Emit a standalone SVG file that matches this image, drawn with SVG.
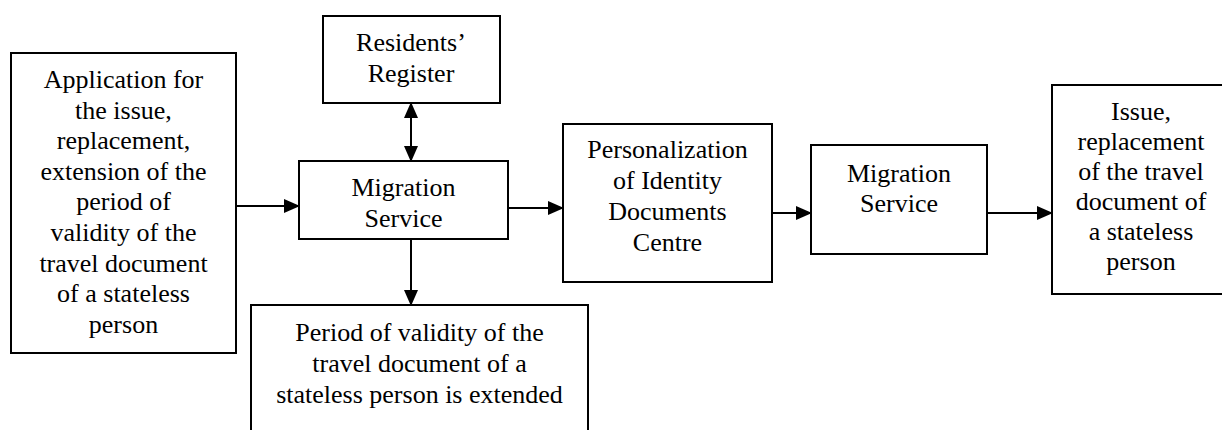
<svg xmlns="http://www.w3.org/2000/svg" width="1222" height="430" viewBox="0 0 1222 430">
<style>
rect{fill:#fff;stroke:#000;stroke-width:2}
text{font-family:'Liberation Serif','Tinos','Times New Roman','DejaVu Serif',serif;font-size:26px;fill:#000;text-anchor:middle}
.c{stroke:#000;stroke-width:2;fill:none}
</style>
<defs>
<marker id="ah" markerWidth="16" markerHeight="14" refX="15" refY="7" orient="auto" markerUnits="userSpaceOnUse">
<path d="M0,0 L16,7 L0,14 Z" fill="#000"/>
</marker>
<marker id="as" markerWidth="16" markerHeight="14" refX="1" refY="7" orient="auto" markerUnits="userSpaceOnUse">
<path d="M16,0 L0,7 L16,14 Z" fill="#000"/>
</marker>
</defs>
<g id="connectors">
<line class="c" x1="236" y1="206" x2="299" y2="206" marker-end="url(#ah)"/>
<line class="c" x1="411" y1="103" x2="411" y2="161" marker-start="url(#as)" marker-end="url(#ah)"/>
<line class="c" x1="411" y1="239" x2="411" y2="305" marker-end="url(#ah)"/>
<line class="c" x1="508" y1="208" x2="563" y2="208" marker-end="url(#ah)"/>
<line class="c" x1="772" y1="213" x2="811" y2="213" marker-end="url(#ah)"/>
<line class="c" x1="987" y1="213" x2="1052" y2="213" marker-end="url(#ah)"/>
</g>
<g font-family="Liberation Serif, Tinos, Times New Roman, DejaVu Serif, serif">
<g id="application">
<rect x="11" y="53" width="225" height="300"/>
<text x="123.5" y="88">Application for</text>
<text x="123.5" y="118.6">the issue,</text>
<text x="123.5" y="149.2">replacement,</text>
<text x="123.5" y="179.8">extension of the</text>
<text x="123.5" y="210.4">period of</text>
<text x="123.5" y="241">validity of the</text>
<text x="123.5" y="271.6">travel document</text>
<text x="123.5" y="302.2">of a stateless</text>
<text x="123.5" y="332.8">person</text>
</g>
<g id="register">
<rect x="323" y="16" width="177" height="87"/>
<text x="411" y="51">Residents’</text>
<text x="411" y="82">Register</text>
</g>
<g id="migration1">
<rect x="299" y="161" width="209" height="78"/>
<text x="403.5" y="196">Migration</text>
<text x="403.5" y="227">Service</text>
</g>
<g id="extended">
<rect x="251" y="305" width="337" height="140"/>
<text x="419.5" y="341">Period of validity of the</text>
<text x="419.5" y="372">travel document of a</text>
<text x="419.5" y="403">stateless person is extended</text>
</g>
<g id="personalization">
<rect x="563" y="124" width="209" height="158"/>
<text x="667.5" y="158">Personalization</text>
<text x="667.5" y="189">of Identity</text>
<text x="667.5" y="220">Documents</text>
<text x="667.5" y="251">Centre</text>
</g>
<g id="migration2">
<rect x="811" y="145" width="176" height="109"/>
<text x="899" y="182">Migration</text>
<text x="899" y="212">Service</text>
</g>
<g id="issue">
<rect x="1052" y="85" width="178" height="209"/>
<text x="1141" y="120">Issue,</text>
<text x="1141" y="150">replacement</text>
<text x="1141" y="180">of the travel</text>
<text x="1141" y="210">document of</text>
<text x="1141" y="240">a stateless</text>
<text x="1141" y="270">person</text>
</g>
</g>
</svg>
